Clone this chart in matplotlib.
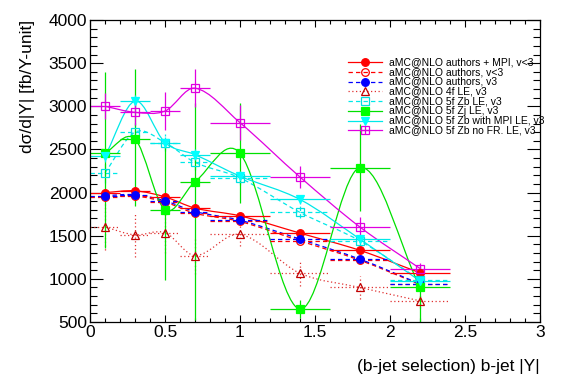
import numpy as np
import matplotlib
matplotlib.use("Agg")
import matplotlib.pyplot as plt
from matplotlib.path import Path
from matplotlib.patches import PathPatch
from matplotlib.ticker import MultipleLocator

plt.rcParams['font.family'] = ['Liberation Sans', 'DejaVu Sans']

# bins in b-jet |Y|
x_center = [0.1, 0.3, 0.5, 0.7, 1.0, 1.4, 1.8, 2.2]
x_half = [0.1, 0.1, 0.1, 0.1, 0.2, 0.2, 0.2, 0.2]

# dsigma/d|Y| [fb/Y-unit]
mpi_v2 = [2000, 2020, 1950, 1820, 1730, 1530, 1330, 1070]
authors_v2 = [1950, 1960, 1890, 1760, 1665, 1440, 1215, 935]
authors_v3 = [1965, 1975, 1905, 1780, 1680, 1460, 1228, 942]
lo4f = [1600, 1510, 1535, 1270, 1515, 1065, 900, 745]
zb5f = [2230, 2700, 2580, 2350, 2170, 1770, 1440, 988]
zj5f = [2460, 2620, 1800, 2125, 2455, 650, 2290, 900]
zb5f_mpi = [2420, 3060, 2580, 2440, 2190, 1920, 1460, 975]
zb5f_nofr = [3000, 2930, 2945, 3210, 2810, 2180, 1600, 1120]

# y errors (low, high)
err_mpi_v2 = [30, 30, 30, 30, 25, 25, 25, 20]
err_authors_v2 = [30, 30, 30, 30, 25, 25, 25, 20]
err_authors_v3 = [30, 30, 30, 30, 25, 25, 25, 20]
err_lo4f = [265, 260, 230, 210, 130, 150, 130, 80]
err_zb5f = [120, 110, 100, 90, 80, 70, 60, 50]
err_zj5f_lo = [1100, 780, 810, 1600, 580, 100, 500, 450]
err_zj5f_hi = [940, 810, 810, 915, 580, 100, 510, 250]
err_zb5f_mpi = [70, 70, 60, 60, 60, 50, 50, 40]
err_zb5f_nofr = [150, 150, 225, 220, 200, 130, 120, 60]

labels = [
    "aMC@NLO authors + MPI, v<3",
    "aMC@NLO authors, v<3",
    "aMC@NLO authors, v3",
    "aMC@NLO 4f LE, v3",
    "aMC@NLO 5f Zb LE, v3",
    "aMC@NLO 5f Zj LE, v3",
    "aMC@NLO 5f Zb with MPI LE, v3",
    "aMC@NLO 5f Zb no FR. LE, v3",
]

DASH = (0, (3.5, 2.5))
DOT = (0, (1, 2))


def smooth_patch(x, y, **kw):
    # smooth curve through the points (like ROOT "C" option), cubic bezier segments
    x = np.asarray(x, float)
    y = np.asarray(y, float)
    n = len(x)
    m = np.zeros(n)
    m[0] = (y[1] - y[0]) / (x[1] - x[0])
    m[-1] = (y[-1] - y[-2]) / (x[-1] - x[-2])
    for i in range(1, n - 1):
        m[i] = (y[i + 1] - y[i - 1]) / (x[i + 1] - x[i - 1])
    verts = [(x[0], y[0])]
    codes = [Path.MOVETO]
    for i in range(n - 1):
        h = x[i + 1] - x[i]
        verts += [(x[i] + h / 3, y[i] + m[i] * h / 3),
                  (x[i + 1] - h / 3, y[i + 1] - m[i + 1] * h / 3),
                  (x[i + 1], y[i + 1])]
        codes += [Path.CURVE4] * 3
    return PathPatch(Path(verts, codes), fill=False, **kw)


fig = plt.figure(figsize=(5.67, 3.84), dpi=100)
ax = fig.add_axes([90 / 567, 1 - 322 / 384, 450 / 567, 302 / 384])

series = [
    (mpi_v2, (err_mpi_v2, err_mpi_v2), 'red', '-', 'o', 'red'),
    (authors_v2, (err_authors_v2, err_authors_v2), 'red', DASH, 'o', 'none'),
    (authors_v3, (err_authors_v3, err_authors_v3), 'blue', DASH, 'o', 'blue'),
    (lo4f, (err_lo4f, err_lo4f), '#e03030', DOT, '^', 'none'),
    (zb5f, (err_zb5f, err_zb5f), '#00e8e8', DASH, 's', 'none'),
    (zj5f, (err_zj5f_lo, err_zj5f_hi), '#00e000', '-', 's', '#00ff00'),
    (zb5f_mpi, (err_zb5f_mpi, err_zb5f_mpi), '#00e8e8', '-', 'v', '#00ffff'),
    (zb5f_nofr, (err_zb5f_nofr, err_zb5f_nofr), '#e000e0', '-', 's', 'none'),
]

mec_list = ['red', 'red', 'blue', '#c00000', '#00e0e0', '#00ff00', '#00ffff', '#e000e0']

for (vals, yerr, col, ls, mk, mfc), mec in zip(series, mec_list):
    ax.add_patch(smooth_patch(x_center, vals, edgecolor=col, linestyle=ls, lw=0.9))
    eb = ax.errorbar(x_center, vals, xerr=x_half, yerr=[yerr[0], yerr[1]],
                     fmt=mk, color=col, ms=5.5, mfc=mfc, mec=mec, mew=0.9,
                     elinewidth=0.9, capsize=0)
    for lc in eb[2]:
        lc.set_linestyle(ls)

ax.set_xlim(0, 3)
ax.set_ylim(500, 4000)
ax.xaxis.set_major_locator(MultipleLocator(0.5))
ax.xaxis.set_minor_locator(MultipleLocator(0.1))
ax.yaxis.set_major_locator(MultipleLocator(500))
ax.yaxis.set_minor_locator(MultipleLocator(100))
ax.xaxis.set_major_formatter(plt.FuncFormatter(lambda v, p: f"{v:g}"))
ax.tick_params(axis='x', which='major', direction='in', length=5, width=0.8,
               top=True, labelsize=12.5, pad=2.5)
ax.tick_params(axis='x', which='minor', direction='in', length=2.6, width=0.8, top=True)
ax.tick_params(axis='y', which='major', direction='in', length=9.5, width=0.8,
               right=True, labelsize=12.5, pad=2)
ax.tick_params(axis='y', which='minor', direction='in', length=4.7, width=0.8, right=True)
for sp in ax.spines.values():
    sp.set_linewidth(0.9)

fig.text(540 / 567, 1 - 367 / 384, "(b-jet selection) b-jet |Y|", ha='right',
         va='center', fontsize=12.5)
fig.text(28 / 567, 1 - 20 / 384, "dσ/d|Y| [fb/Y-unit]", ha='center', va='top',
         rotation=90, fontsize=12.5)

# legend drawn by hand, ROOT style
y0 = 1 - 42 / 302
dy = 9.75 / 302
for i, ((vals, yerr, col, ls, mk, mfc), mec, lab) in enumerate(zip(series, mec_list, labels)):
    yy = y0 - i * dy
    ax.plot([258 / 450, 292 / 450], [yy, yy], transform=ax.transAxes, color=col,
            ls=ls, lw=0.9, clip_on=False)
    ax.plot([275 / 450], [yy], transform=ax.transAxes, marker=mk, ms=5.5, mfc=mfc,
            mec=mec, mew=0.9, clip_on=False, ls='none')
    if i == 7:
        ax.plot([275 / 450], [yy], transform=ax.transAxes, marker='+', ms=5.5,
                color=col, mew=0.9, clip_on=False)
    ax.text(299 / 450, yy, lab, transform=ax.transAxes, fontsize=7.5, va='center',
            ha='left', clip_on=False)

fig.savefig("out.png", dpi=100)
